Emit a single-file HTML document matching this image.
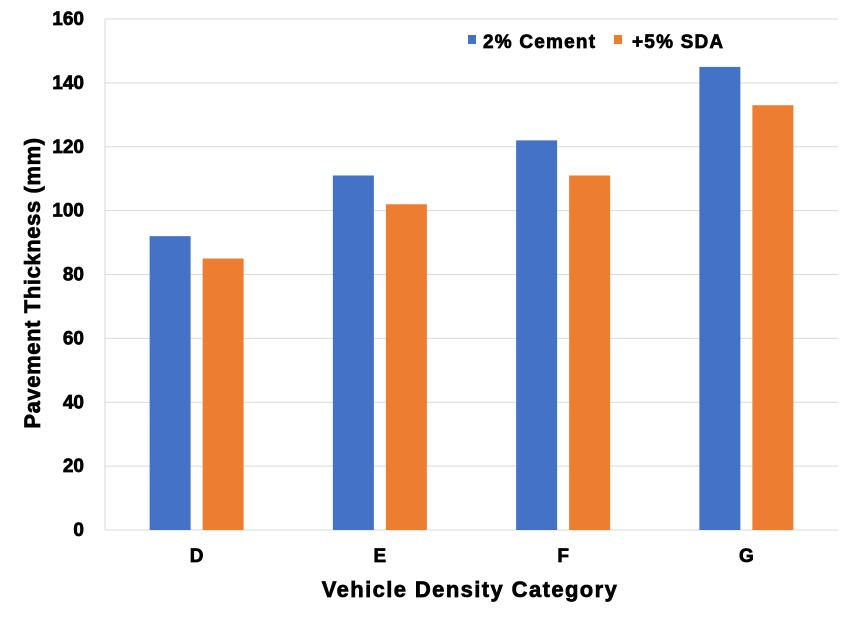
<!DOCTYPE html>
<html><head><meta charset="utf-8"><style>
body{margin:0;background:#fff}
svg{display:block;font-family:"Liberation Sans",Arial,sans-serif;font-weight:bold}
.thick{stroke:#000;stroke-width:0.7}
</style></head><body>
<svg id="chart" width="850" height="617">
<g id="grid"></g><g id="bars"></g><g id="labels" class="thick"></g>
<text class="thick" x="40" y="283" font-size="22" letter-spacing="0.6" text-anchor="middle" transform="rotate(-90 40 283)">Pavement Thickness (mm)</text>
<text class="thick" x="470" y="597" font-size="22" letter-spacing="1.4" text-anchor="middle">Vehicle Density Category</text>
<g>
<rect x="468" y="35" width="8" height="9" fill="#4472C4"/>
<text class="thick" x="483" y="48" font-size="19" letter-spacing="1.2">2%  Cement</text>
<rect x="614" y="35" width="8" height="9" fill="#ED7D31"/>
<text class="thick" x="632" y="48" font-size="19" letter-spacing="1.2">+5%  SDA</text>
</g>
</svg>
<script>
const categories=["D","E","F","G"];
const cementValues=[92,111,122,145];
const sdaValues=[85,102,111,133];
const yTicks=[0,20,40,60,80,100,120,140,160];
const NS="http://www.w3.org/2000/svg";
const x0=105,x1=838,yB=530,yT=19,yMax=160;
const y=v=>yB-(v/yMax)*(yB-yT);
const band=(x1-x0)/categories.length;
function mk(tag,attrs,parent,text){const e=document.createElementNS(NS,tag);for(const k in attrs)e.setAttribute(k,attrs[k]);if(text!==undefined)e.textContent=text;document.getElementById(parent).appendChild(e);return e;}
yTicks.forEach(t=>{
 const l=mk("line",{x1:x0,x2:x1,y1:y(t),y2:y(t),stroke:"#d9d9d9","stroke-width":1},"grid");
 
 
 const tx=mk("text",{x:84,y:y(t)+6,"font-size":19,"text-anchor":"end"},"labels",t);
 
 
});
const ax=mk("line",{x1:x0,x2:x0,y1:yT,y2:yB,stroke:"#d9d9d9"},"grid");


const bw=41,gap=12;
categories.forEach((c,i)=>{
 const cx=x0+band*(i+0.5);
 const b1=mk("rect",{x:cx-gap/2-bw,y:y(cementValues[i]),width:bw,height:yB-y(cementValues[i]),fill:"#4472C4"},"bars");
 
 
 const b2=mk("rect",{x:cx+gap/2,y:y(sdaValues[i]),width:bw,height:yB-y(sdaValues[i]),fill:"#ED7D31"},"bars");
 
 
 const t=mk("text",{x:cx,y:562,"font-size":19,"text-anchor":"middle"},"labels",c);
 
 
});
</script>
</body></html>
